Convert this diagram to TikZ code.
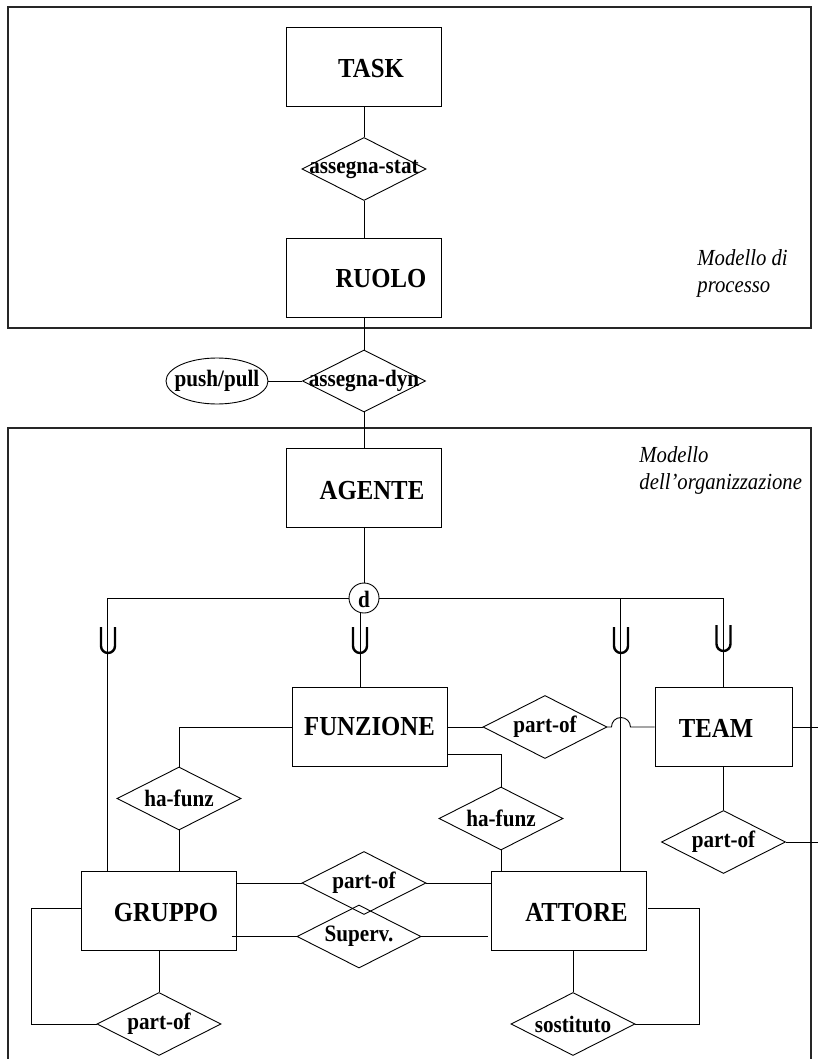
\documentclass[tikz,border=0pt]{standalone}
\usepackage{fontspec}
\setmainfont{Liberation Serif}
\newfontfamily\condserif[FakeStretch=0.9]{Liberation Serif}
\usetikzlibrary{shapes.geometric}

\begin{document}
\begin{tikzpicture}[x=1pt, y=-1pt, line width=0.9pt,
  frame/.style={draw, line width=1.2pt, black!85},
  entity/.style={draw, rectangle, minimum width=155pt, minimum height=79pt, inner sep=0pt},
  entlbl/.style={font=\condserif\fontsize{27.5}{32}\selectfont\bfseries, inner sep=0pt},
  rel/.style={draw, diamond, minimum width=124pt, minimum height=63pt, inner sep=0pt},
  rellbl/.style={font=\condserif\fontsize{23.5}{28}\selectfont\bfseries, inner sep=0pt},
  note/.style={font=\condserif\fontsize{23}{27}\selectfont\itshape, align=left, inner sep=0pt, anchor=north west},
  usym/.pic={\draw[line width=2.4pt] (-7pt,13pt) -- (-7pt,-6pt)
      arc[start angle=180, end angle=360, radius=7pt] -- (7pt,13pt);}
]
\useasboundingbox (0,0) rectangle (818,1059);

% model frames
\draw[frame] (8,7) rectangle (811,328);
\draw[frame] (8,428) rectangle (811,1080);
\node[note] (procnote) at (697,249) {Modello di\\processo};
\node[note] (orgnote) at (639,446) {Modello\\dell’organizzazione};

% process model
\node[entity, label={[entlbl, xshift=7pt, yshift=-2.5pt]center:TASK}] (task) at (364,66.5) {};
\node[rel, label={[rellbl]center:assegna-stat}] (assegnastat) at (364,169) {};
\node[entity, label={[entlbl, xshift=17pt, yshift=-1.5pt]center:RUOLO}] (ruolo) at (364,277.5) {};

% dynamic assignment
\node[rel, minimum width=123pt, minimum height=62pt, label={[rellbl]center:assegna-dyn}] (assegnadyn) at (364,381) {};
\node[draw, ellipse, minimum width=102pt, minimum height=46pt, inner sep=0pt,
      label={[rellbl]center:push/pull}] (pushpull) at (217,381) {};

% organisation model
\node[entity, label={[entlbl, xshift=8pt, yshift=-3pt]center:AGENTE}] (agente) at (364,488) {};
\node[draw, circle, minimum size=30pt, inner sep=0pt, label={[rellbl, yshift=-1pt]center:d}] (d) at (364,598) {};

\node[entity, label={[entlbl]center:FUNZIONE}] (funzione) at (369.5,727) {};
\node[entity, minimum width=137pt, label={[entlbl, xshift=-7.5pt, yshift=-1.5pt]center:TEAM}] (team) at (723.5,727) {};
\node[entity, label={[entlbl, xshift=7pt, yshift=-2pt]center:GRUPPO}] (gruppo) at (159,911) {};
\node[entity, label={[entlbl, xshift=8pt, yshift=-2pt]center:ATTORE}] (attore) at (568.5,911) {};

\node[rel, label={[rellbl]center:part-of}] (partof1) at (545,727) {};
\node[rel, label={[rellbl]center:ha-funz}] (hafunz1) at (179,798.5) {};
\node[rel, label={[rellbl]center:ha-funz}] (hafunz2) at (501,818.5) {};
\node[rel, label={[rellbl]center:part-of}] (partof2) at (723.5,842) {};
\node[rel, label={[rellbl]center:part-of}] (partof3) at (364,883) {};
\node[rel, label={[rellbl]center:Superv.}] (superv) at (359,936.5) {};
\node[rel, label={[rellbl]center:part-of}] (partof4) at (159,1024) {};
\node[rel, label={[rellbl]center:sostituto}] (sostituto) at (573,1024) {};

% process connectors
\draw (task.south) -- (assegnastat.north);
\draw (assegnastat.south) -- (ruolo.north);
\draw (ruolo.south) -- (assegnadyn.north);
\draw (pushpull.east) -- (assegnadyn.west);
\draw (assegnadyn.south) -- (agente.north);

% generalisation of AGENTE
\draw (agente.south) -- (d.north);
\draw (d.west) -| ([xshift=26pt]gruppo.north west);
\draw ([xshift=-4pt]d.south) -- ([xshift=-4pt]d.south |- funzione.north);
\path ([xshift=130pt]attore.north west) coordinate (aj);
\draw (d.east) -| (aj);
\coordinate (tj) at (aj |- d.east);
\draw (tj) -| (team.north);
\pic at (108,640) {usym};
\pic at (360,640) {usym};
\pic at (621,640) {usym};
\pic at (723.5,638) {usym};

% FUNZIONE relations
\draw (funzione.west) -| (hafunz1.north);
\draw (hafunz1.south) -- (hafunz1.south |- gruppo.north);
\draw ([yshift=-27.5pt]funzione.east) -| (hafunz2.north);
\draw (hafunz2.south) -- (hafunz2.south |- attore.north);
\draw (funzione.east) -- (partof1.west);
\draw (partof1.east) -- ++(4,0) arc[start angle=180, end angle=0, radius=9.5pt] -- (team.west);

% TEAM relations
\draw (team.east) -- ++(30,0);
\draw (team.south) -- (partof2.north);
\draw (partof2.east) -- ++(40,0);

% GRUPPO / ATTORE relations
\draw (gruppo.east |- partof3.west) -- (partof3.west);
\draw (partof3.east) -- (attore.west |- partof3.east);
\draw ([xshift=-5pt]gruppo.east |- superv.west) -- (superv.west);
\draw (superv.east) -- ([xshift=-3pt]attore.west |- superv.east);
\draw ([yshift=3pt]gruppo.west) -- ++(-50,0) |- (partof4.west);
\draw (gruppo.south) -- (partof4.north);
\draw (sostituto.north |- attore.south) -- (sostituto.north);
\draw (sostituto.east) -- ++(64,0) |- ([shift={(2pt,3pt)}]attore.east);
\end{tikzpicture}
\end{document}
